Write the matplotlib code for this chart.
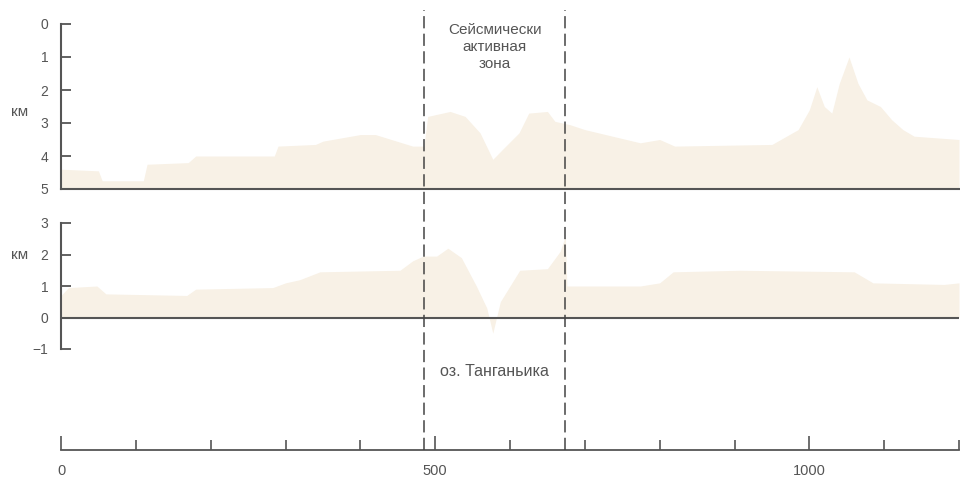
import numpy as np
import matplotlib.pyplot as plt
from matplotlib.ticker import MultipleLocator

plt.rcParams['font.family'] = ['Liberation Sans', 'DejaVu Sans']

# profile along the section, distance in km
top_dist = [0, 50, 55, 110, 115, 170, 180, 285, 290, 340, 350, 400, 420, 470, 485,
            490, 520, 540, 560, 577, 590, 612, 625, 650, 660, 680, 700, 774, 800,
            820, 950, 985, 1000, 1010, 1020, 1030, 1040, 1053, 1065, 1077, 1095,
            1110, 1125, 1140, 1200]
top_depth = [4.4, 4.45, 4.75, 4.75, 4.25, 4.2, 4.0, 4.0, 3.7, 3.65, 3.55, 3.35, 3.35,
             3.7, 3.7, 2.8, 2.65, 2.8, 3.3, 4.1, 3.8, 3.3, 2.7, 2.65, 2.95, 3.05, 3.2,
             3.6, 3.5, 3.7, 3.65, 3.2, 2.6, 1.9, 2.5, 2.7, 1.8, 1.0, 1.8, 2.3, 2.5,
             2.9, 3.2, 3.4, 3.5]

bot_dist = [0, 10, 48, 60, 168, 180, 283, 300, 319, 346, 453, 470, 484, 502, 517,
            535, 555, 569, 577, 587, 600, 613, 650, 667, 674, 676, 774, 800, 818,
            907, 1060, 1085, 1180, 1200]
bot_elev = [0.7, 0.95, 1.0, 0.75, 0.7, 0.9, 0.95, 1.1, 1.2, 1.45, 1.5, 1.8, 1.95,
            1.95, 2.2, 1.9, 1.0, 0.3, -0.5, 0.5, 1.0, 1.5, 1.55, 2.1, 2.6, 1.0, 1.0,
            1.1, 1.45, 1.5, 1.45, 1.1, 1.05, 1.1]

zone_edges = [485, 674]
x_max = 1200

W, H = 960, 479
fill_c = '#f8f1e6'
ink = '#555555'

def frac(left, top, right, bottom):
    return [left / W, 1 - bottom / H, (right - left) / W, (bottom - top) / H]

fig = plt.figure(figsize=(9.6, 4.79), dpi=100)

# top panel: depth, 0..5 km
ax1 = fig.add_axes(frac(61, 24, 959, 189))
ax1.fill_between(top_dist, top_depth, 5, color=fill_c, lw=0)
ax1.set_xlim(0, x_max)
ax1.set_ylim(5, 0)
ax1.set_yticks(range(6))

# lower panel: elevation, -1..3 km
ax2 = fig.add_axes(frac(61, 223, 959, 349))
ax2.fill_between(bot_dist, bot_elev, 0, color=fill_c, lw=0)
ax2.axhline(0, color=ink, lw=1.5)
ax2.set_xlim(0, x_max)
ax2.set_ylim(-1, 3)
ax2.set_yticks(range(-1, 4))
ax2.set_yticklabels(['\u22121', '0', '1', '2', '3'])

for ax in (ax1, ax2):
    for s in ('top', 'right'):
        ax.spines[s].set_visible(False)
    ax.spines['bottom'].set_visible(ax is ax1)
    ax.spines['left'].set_color(ink)
    ax.spines['left'].set_linewidth(1.5)
    ax.spines['bottom'].set_color(ink)
    ax.spines['bottom'].set_linewidth(1.5)
    ax.set_xticks([])
    ax.tick_params(axis='y', direction='in', length=7, width=1.3, color=ink,
                   labelcolor=ink, labelsize=10, pad=9)
    ax.patch.set_alpha(0)

fig.text(20 / W, 1 - 112 / H, 'км', color=ink, fontsize=11, ha='center', va='center')
fig.text(20 / W, 1 - 255 / H, 'км', color=ink, fontsize=11, ha='center', va='center')

# distance scale
ax3 = fig.add_axes(frac(61, 400, 959, 450))
ax3.set_xlim(0, x_max)
ax3.set_ylim(0, 1)
for s in ('top', 'right', 'left'):
    ax3.spines[s].set_visible(False)
ax3.spines['bottom'].set_color(ink)
ax3.spines['bottom'].set_linewidth(1.3)
ax3.set_yticks([])
ax3.set_xticks([0, 500, 1000])
ax3.xaxis.set_minor_locator(MultipleLocator(100))
ax3.tick_params(axis='x', which='major', direction='in', length=10, width=1.2,
                color=ink, labelcolor=ink, labelsize=10.5, pad=10)
ax3.tick_params(axis='x', which='minor', direction='in', length=7, width=1.2, color=ink)
ax3.patch.set_alpha(0)

# dashed borders of the seismic zone
ax4 = fig.add_axes(frac(61, 10, 959, 450))
ax4.set_xlim(0, x_max)
ax4.set_ylim(0, 1)
ax4.axis('off')
for xe in zone_edges:
    ax4.axvline(xe, color='#444444', lw=1.1, ls=(0, (8, 3.5)))

mid = sum(zone_edges) / 2
ax4.text(mid, 1 - 37 / 440, 'Сейсмически\nактивная\nзона', ha='center', va='center',
         color=ink, fontsize=11, linespacing=1.3)
ax4.text(mid, 1 - 361 / 440, 'оз. Танганьика', ha='center', va='center',
         color=ink, fontsize=11.5)

fig.savefig('out.png', dpi=100)
